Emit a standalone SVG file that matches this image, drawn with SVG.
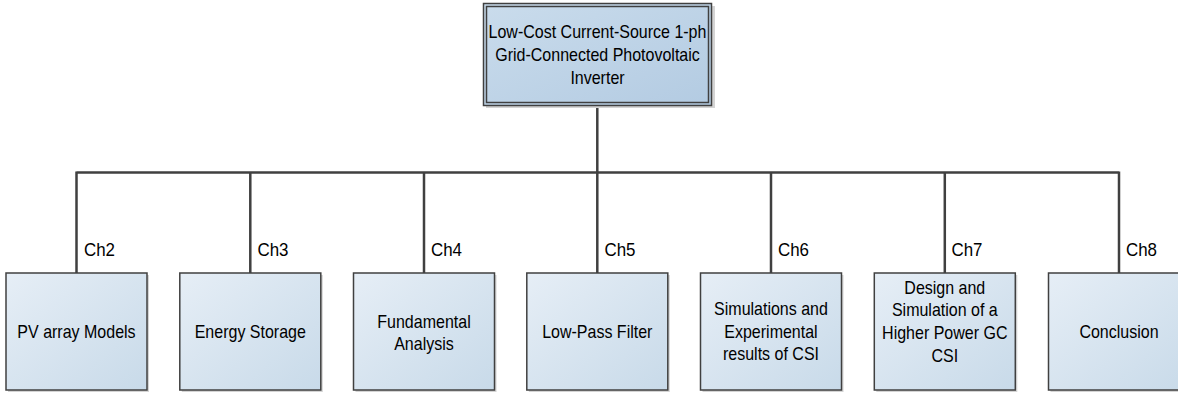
<svg xmlns="http://www.w3.org/2000/svg" width="1178" height="393" viewBox="0 0 1178 393">
<defs>
<linearGradient id="gb" x1="0" y1="0" x2="1" y2="1">
<stop offset="0" stop-color="#e6eef6"/>
<stop offset="1" stop-color="#c8dae9"/>
</linearGradient>
<linearGradient id="gt" x1="0" y1="0" x2="1" y2="1">
<stop offset="0" stop-color="#cadcec"/>
<stop offset="1" stop-color="#b3cbe2"/>
</linearGradient>
</defs>
<style>
.box{fill:url(#gb);stroke:#404040;stroke-width:1.5}
.top{fill:url(#gt);stroke:#404040;stroke-width:1.5}
.inner{fill:none;stroke:#404040;stroke-width:1.5}
.sh{fill:#d4d4d4}
.t{font-family:"Liberation Sans",Arial,sans-serif;font-size:18px;fill:#000;text-anchor:middle;transform-box:fill-box;transform-origin:center;transform:scaleX(0.89)}
.ch{font-family:"Liberation Sans",Arial,sans-serif;font-size:18px;fill:#000;transform-box:fill-box;transform-origin:left center;transform:scaleX(0.94)}
.c{fill:none;stroke:#404040;stroke-width:2.5}
</style>
<g id="connectors">
<path class="c" d="M597.3,105 V172.5 M76.5,172.5 H1119 M76.5,171.5 V273 M250.3,171.5 V273 M424,171.5 V273 M597.3,171.5 V273 M771,171.5 V273 M944.8,171.5 V273 M1119,171.5 V273"/>
<text class="ch" x="84" y="256">Ch2</text>
<text class="ch" x="257.5" y="256">Ch3</text>
<text class="ch" x="431" y="256">Ch4</text>
<text class="ch" x="604.5" y="256">Ch5</text>
<text class="ch" x="778" y="256">Ch6</text>
<text class="ch" x="951.5" y="256">Ch7</text>
<text class="ch" x="1126" y="256">Ch8</text>
</g>
<g id="root">
<rect class="sh" x="486" y="6" width="229" height="102"/>
<rect class="top" x="483.5" y="3.5" width="228" height="102"/>
<rect class="inner" x="486.5" y="6.5" width="222" height="96"/>
<text class="t" x="597.5" y="38">Low-Cost Current-Source 1-ph</text>
<text class="t" x="597.5" y="61">Grid-Connected Photovoltaic</text>
<text class="t" x="597.5" y="84">Inverter</text>
</g>
<g id="ch2">
<rect class="sh" x="8" y="275" width="141" height="117"/>
<rect class="box" x="6" y="273" width="141" height="117"/>
<text class="t" x="76.5" y="338">PV array Models</text>
</g>
<g id="ch3">
<rect class="sh" x="181.8" y="275" width="141" height="117"/>
<rect class="box" x="179.8" y="273" width="141" height="117"/>
<text class="t" x="250.3" y="338">Energy Storage</text>
</g>
<g id="ch4">
<rect class="sh" x="355.5" y="275" width="141" height="117"/>
<rect class="box" x="353.5" y="273" width="141" height="117"/>
<text class="t" x="424" y="328">Fundamental</text>
<text class="t" x="424" y="350">Analysis</text>
</g>
<g id="ch5">
<rect class="sh" x="528.8" y="275" width="141" height="117"/>
<rect class="box" x="526.8" y="273" width="141" height="117"/>
<text class="t" x="597.3" y="338">Low-Pass Filter</text>
</g>
<g id="ch6">
<rect class="sh" x="702.5" y="275" width="141" height="117"/>
<rect class="box" x="700.5" y="273" width="141" height="117"/>
<text class="t" x="771" y="315">Simulations and</text>
<text class="t" x="771" y="338">Experimental</text>
<text class="t" x="771" y="360">results of CSI</text>
</g>
<g id="ch7">
<rect class="sh" x="876.3" y="275" width="141" height="117"/>
<rect class="box" x="874.3" y="273" width="141" height="117"/>
<text class="t" x="944.8" y="294">Design and</text>
<text class="t" x="944.8" y="316">Simulation of a</text>
<text class="t" x="944.8" y="339">Higher Power GC</text>
<text class="t" x="944.8" y="362">CSI</text>
</g>
<g id="ch8">
<rect class="sh" x="1050.5" y="275" width="141" height="117"/>
<rect class="box" x="1048.5" y="273" width="141" height="117"/>
<text class="t" x="1119" y="338">Conclusion</text>
</g>
</svg>
